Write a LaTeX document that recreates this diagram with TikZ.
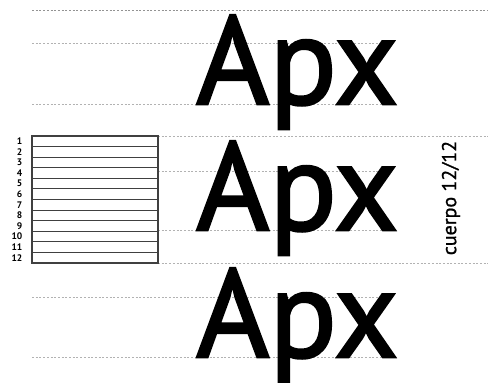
\documentclass[tikz,border=0pt]{standalone}
\usepackage{fontspec}
\setmainfont{PT Sans}
\newfontfamily\apxfont[FakeBold=2]{PT Sans}
\newfontfamily\lblfont[FakeBold=1]{PT Sans}
\begin{document}
\begin{tikzpicture}[x=1pt,y=-1pt,
  guide/.style={draw=gray!60,line width=0.8pt,dash pattern=on 2pt off 1.7pt},
  guidedark/.style={draw=gray!85,line width=0.8pt,dash pattern=on 2pt off 1.7pt},
  big/.style={anchor=base west,inner sep=0pt,font=\apxfont\fontsize{125}{125}\selectfont},
  num/.style={anchor=east,inner sep=0pt,font=\fontsize{9.5}{9.5}\selectfont\bfseries},
  rowline/.style={draw=black!75,line width=1.1pt}]
\useasboundingbox (0,0) rectangle (488,383);
% guide lines
\coordinate (g1a) at (32,10);  \coordinate (g1b) at (488,10);
\coordinate (g2a) at (32,43);  \coordinate (g2b) at (392,43);
\coordinate (g3a) at (32,104); \coordinate (g3b) at (392,104);
\coordinate (g4a) at (158,136); \coordinate (g4b) at (488,136);
\coordinate (g5a) at (158,171); \coordinate (g5b) at (392,171);
\coordinate (g6a) at (158,230); \coordinate (g6b) at (392,230);
\coordinate (g7a) at (158,263); \coordinate (g7b) at (488,263);
\coordinate (g8a) at (32,297); \coordinate (g8b) at (392,297);
\coordinate (g9a) at (32,357); \coordinate (g9b) at (392,357);
\draw[guidedark] (g1a) -- (g1b);
\foreach \i in {2,...,9} {\draw[guide] (g\i a) -- (g\i b);}
% text
\node[big] (apx1) at (196,104) {Apx};
\node[big] (apx2) at (196,230) {Apx};
\node[big] (apx3) at (196,357) {Apx};
% box
\coordinate (boxtl) at (32,136);
\coordinate (boxbr) at (158,263);
\draw[rowline] (boxtl) rectangle (boxbr);
\foreach \i in {1,...,11} {
  \draw[rowline] (32,136+\i*10.5833) -- (158,136+\i*10.5833);
}
\foreach \i in {1,...,12} {
  \node[num] (n\i) at (22.5,136+\i*10.5833-5.29) {\i};
}
\node[rotate=90,inner sep=0pt,font=\lblfont\fontsize{20}{20}\selectfont] (cuerpo) at (451,198) {cuerpo 12/12};
\end{tikzpicture}
\end{document}
